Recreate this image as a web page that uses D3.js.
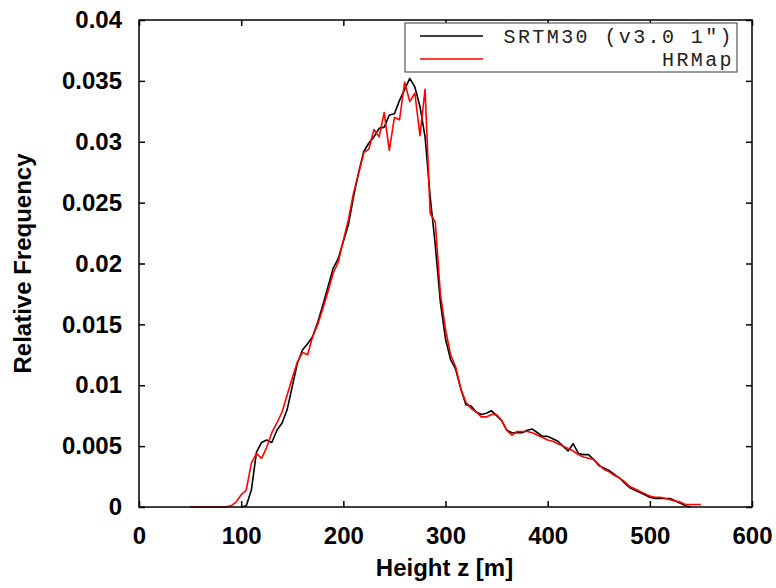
<!DOCTYPE html>
<html>
<head>
<meta charset="utf-8">
<script src="https://cdn.jsdelivr.net/npm/d3@7"></script>
<style>
  body { margin: 0; background: #fff; }
  svg text { font-family: "Liberation Sans", Arial, sans-serif; }
</style>
</head>
<body>
<div id="chart"></div>
<script>
// data, 5 m bins
const srtmHeights = [100,105,110,115,120,125,130,135,140,145,150,155,160,165,170,175,180,185,190,195,
  200,205,210,215,220,225,230,235,240,245,250,255,260,265,270,275,280,285,290,295,
  300,305,310,315,320,325,330,335,340,345,350,355,360,365,370,375,380,385,390,395,
  400,405,410,415,420,425,430,435,440,445,450,455,460,465,470,475,480,485,490,495,
  500,505,510,515,520,525,530,535,540];
const srtmFreq = [0,0.0001,0.0014,0.0045,0.0053,0.0055,0.0053,0.0063,0.0069,0.0080,0.0099,0.0118,0.0129,0.0134,0.0140,0.0152,0.0166,0.0181,0.0196,0.0204,
  0.0218,0.0232,0.0255,0.0275,0.0292,0.0299,0.0304,0.0311,0.0312,0.0322,0.0323,0.0334,0.0343,0.0352,0.0345,0.0329,0.0304,0.0255,0.0215,0.0168,
  0.0138,0.0121,0.0113,0.0097,0.0084,0.0083,0.0078,0.0076,0.0077,0.0079,0.0075,0.0071,0.0063,0.0061,0.0061,0.0061,0.0063,0.0064,0.0061,0.0058,
  0.0058,0.0056,0.0054,0.0050,0.0046,0.0052,0.0044,0.0043,0.0043,0.0039,0.0034,0.0032,0.0030,0.0027,0.0024,0.0020,0.0016,0.0014,0.0012,0.0010,
  0.0008,0.0007,0.0007,0.0007,0.0007,0.0005,0.0003,0.0001,0];

const hrHeights = [50,55,60,65,70,75,80,85,90,95,100,105,110,115,120,125,130,135,140,145,150,155,160,165,170,175,180,185,190,195,
  200,205,210,215,220,225,230,235,240,245,250,255,260,265,270,275,280,285,290,295,
  300,305,310,315,320,325,330,335,340,345,350,355,360,365,370,375,380,385,390,395,
  400,405,410,415,420,425,430,435,440,445,450,455,460,465,470,475,480,485,490,495,
  500,505,510,515,520,525,530,535,540,545,550];
const hrFreq = [0,0,0,0,0,0,0,0,0.0001,0.0004,0.0010,0.0014,0.0036,0.0044,0.0040,0.0049,0.0061,0.0069,0.0078,0.0092,0.0106,0.0119,0.0127,0.0125,0.0140,0.0150,0.0163,0.0177,0.0192,0.0201,
  0.0219,0.0236,0.0258,0.0274,0.0291,0.0294,0.0310,0.0304,0.0324,0.0293,0.0320,0.0318,0.0349,0.0333,0.0340,0.0305,0.0343,0.0241,0.0234,0.0175,
  0.0146,0.0125,0.0115,0.0097,0.0086,0.0081,0.0078,0.0074,0.0074,0.0076,0.0076,0.0071,0.0063,0.0059,0.0062,0.0062,0.0062,0.0061,0.0059,0.0057,
  0.0055,0.0054,0.0052,0.0050,0.0048,0.0046,0.0043,0.0041,0.0040,0.0039,0.0035,0.0031,0.0029,0.0026,0.0024,0.0021,0.0017,0.0015,0.0013,0.0011,
  0.0009,0.0008,0.0008,0.0007,0.0006,0.0005,0.0004,0.0002,0.0002,0.0002,0.0002];

const xTicks = [0,100,200,300,400,500,600];
const yTicks = [0,0.005,0.01,0.015,0.02,0.025,0.03,0.035,0.04];
const seriesNames = ['SRTM30 (v3.0 1")', "HRMap"];
const seriesColors = ["#000000", "#ff0000"];

const W = 776, H = 588;
const margin = {top: 20, right: 24, bottom: 81, left: 139};
const width = W - margin.left - margin.right,
      height = H - margin.top - margin.bottom;

const svg = d3.select("#chart").append("svg")
    .attr("width", W)
    .attr("height", H);

const g = svg.append("g")
    .attr("transform", `translate(${margin.left},${margin.top})`);

const x = d3.scaleLinear().domain([0, 600]).range([0, width]);
const y = d3.scaleLinear().domain([0, 0.04]).range([height, 0]);

const fmtY = d => d === 0 ? "0" : String(+d.toFixed(3));

// bottom axis with labels, ticks pointing in
g.append("g")
    .attr("transform", `translate(0,${height})`)
    .call(d3.axisBottom(x).tickValues(xTicks).tickSize(-6).tickPadding(20).tickFormat(d3.format("d")))
    .call(a => a.select(".domain").remove())
    .selectAll("text")
      .style("font-size", "24px").style("font-weight", "bold");

g.append("g")
    .call(d3.axisLeft(y).tickValues(yTicks).tickSize(-6).tickPadding(17).tickFormat(fmtY))
    .call(a => a.select(".domain").remove())
    .selectAll("text")
      .style("font-size", "24px").style("font-weight", "bold");

// mirrored ticks top and right
g.append("g")
    .call(d3.axisTop(x).tickValues(xTicks).tickSize(-6).tickFormat(""))
    .call(a => a.select(".domain").remove());
g.append("g")
    .attr("transform", `translate(${width},0)`)
    .call(d3.axisRight(y).tickValues(yTicks).tickSize(-6).tickFormat(""))
    .call(a => a.select(".domain").remove());

g.selectAll(".tick line").attr("stroke", "#000").attr("stroke-width", 1.5);

// lines
const line = d3.line().x(d => x(d[0])).y(d => y(d[1]));
const series = [
  d3.zip(srtmHeights, srtmFreq),
  d3.zip(hrHeights, hrFreq)
];
series.forEach((s, i) => {
  g.append("path")
    .datum(s)
    .attr("fill", "none")
    .attr("stroke", seriesColors[i])
    .attr("stroke-width", 1.6)
    .attr("stroke-linejoin", "round")
    .attr("d", line);
});

// frame
g.append("rect")
    .attr("width", width).attr("height", height)
    .attr("fill", "none").attr("stroke", "#000").attr("stroke-width", 1.5);

// legend
const leg = g.append("g");
leg.append("rect")
    .attr("x", 266).attr("y", 3).attr("width", 332).attr("height", 49)
    .attr("fill", "#fff").attr("stroke", "#555").attr("stroke-width", 1.2);
seriesNames.forEach((name, i) => {
  const ly = 16 + i * 23;
  leg.append("line")
    .attr("x1", 281).attr("x2", 344).attr("y1", ly).attr("y2", ly)
    .attr("stroke", seriesColors[i]).attr("stroke-width", 1.6);
  leg.append("text")
    .attr("x", 595).attr("y", ly + 7)
    .attr("text-anchor", "end")
    .style("font-family", "'Liberation Mono', 'DejaVu Sans Mono', monospace")
    .style("font-size", "20px")
    .style("letter-spacing", "2.4px")
    .attr("fill", "#222")
    .text(name);
});

// axis titles
svg.append("text")
    .attr("x", margin.left + width / 2 - 1).attr("y", 576)
    .attr("text-anchor", "middle")
    .style("font-size", "24px").style("font-weight", "bold")
    .text("Height z [m]");

svg.append("text")
    .attr("transform", `translate(31,${margin.top + height / 2}) rotate(-90)`)
    .attr("text-anchor", "middle")
    .style("font-size", "24px").style("font-weight", "bold")
    .text("Relative Frequency");
</script>
</body>
</html>
